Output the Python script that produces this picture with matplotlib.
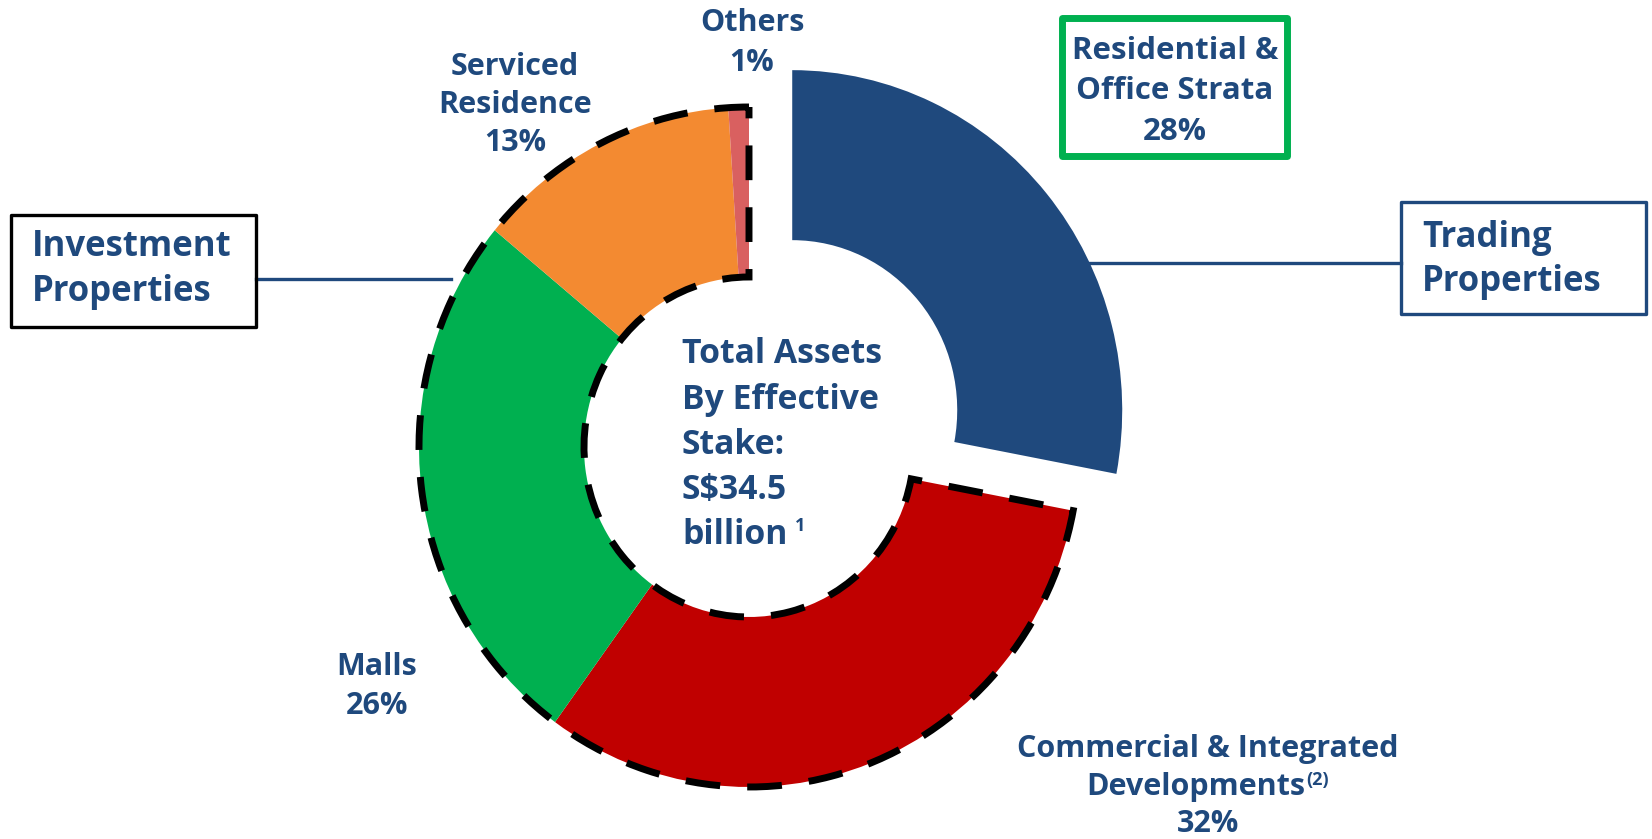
import matplotlib
matplotlib.use("Agg")
import matplotlib.pyplot as plt
from matplotlib.patches import Wedge, Rectangle

# asset mix by effective stake (%), clockwise from 12 o'clock
categories = ["Residential &\nOffice Strata", "Commercial & Integrated\nDevelopments",
              "Malls", "Serviced\nResidence", "Others"]
shares = [28, 32, 26, 13, 1]
colors = ["#1F497D", "#C00000", "#00B050", "#F38A31", "#D96060"]
explode = [0.17, 0, 0, 0, 0]

total_assets = "S$34.5"
center_lines = ["Total Assets", "By Effective", "Stake:", total_assets, "billion"]

NAVY = "#1F497D"
FONT = "Open Sans"

W, H = 1652, 839
CX, CY = 749, 447       # donut centre in pixels
RX, RY = 330, 340       # horizontal / vertical radius in pixels


def px(x, y):
    """pixel position (origin top-left) -> data units of the donut"""
    return (x - CX) / RX, (CY - y) / RY


fig = plt.figure(figsize=(W / 100, H / 100), dpi=100)
ax = fig.add_axes([0, 0, 1, 1])

wedges, _ = ax.pie(shares, colors=colors, explode=explode, startangle=90,
                   counterclock=False, radius=1.0,
                   wedgeprops=dict(width=0.5, linewidth=0))
ax.set_aspect("auto")
ax.set_xlim(-CX / RX, (W - CX) / RX)
ax.set_ylim(-(H - CY) / RY, CY / RY)
ax.axis("off")

# dashed outline around the investment-property slices
start = 90 - 360 * shares[0] / sum(shares) + 360
lw = 5.0
ax.add_patch(Wedge((0, 0), 1.0, 90, start, width=0.5, fill=False,
                   edgecolor="black", linewidth=lw,
                   linestyle=(0, (25.0 / lw, 19.5 / lw)), zorder=5))


def lines_at(x, ys, texts, size, ha="center"):
    out = []
    for y, s in zip(ys, texts):
        out.append(ax.text(*px(x, y), s, ha=ha, va="center", fontsize=size,
                           color=NAVY, fontweight="bold", family=FONT, zorder=6))
    return out


def label(i):
    return categories[i].split("\n") + [f"{shares[i]}%"]


# slice labels
LBL = 22
lines_at(752, [23, 63], label(4), LBL)
lines_at(515, [67, 105, 143], label(3), LBL)
lines_at(377, [667, 706], label(2), LBL)
com = label(1)
com_txt = lines_at(1208, [749], com[:1], LBL) + lines_at(1196, [787], com[1:2], LBL) \
    + lines_at(1208, [824], com[2:], LBL)

# centre text
ctr = lines_at(682, [354, 400, 445, 490, 535], center_lines, 24.3, ha="left")

# boxed group labels
def box(x0, y0, x1, y1, edge, width):
    (a, b), (c, d) = px(x0, y1), px(x1, y0)
    ax.add_patch(Rectangle((a, b), c - a, d - b, fill=False, edgecolor=edge,
                           linewidth=width, joinstyle="round", zorder=6))


box(11, 215, 256, 327, "black", 2.4)
lines_at(32, [247, 292], ["Investment", "Properties"], 25, ha="left")
ax.plot(*zip(px(256, 279), px(451, 279)), color=NAVY, lw=2.4, zorder=1)

box(1401, 202, 1646, 314, NAVY, 2.4)
lines_at(1422, [238, 282], ["Trading", "Properties"], 25, ha="left")
ax.plot(*zip(px(1000, 263), px(1401, 263)), color=NAVY, lw=2.4, zorder=1)

box(1062, 18, 1287, 156, "#00B050", 5)
lines_at(1175, [51, 91, 132], label(0), 22.5)

# superscript footnote markers
fig.canvas.draw()
r = fig.canvas.get_renderer()
bb = ctr[-1].get_window_extent(r)
ax.annotate("1", xy=(bb.x1 + 8, bb.y1 + 1), xycoords="figure pixels",
            ha="left", va="top", fontsize=13, color=NAVY, fontweight="bold",
            family=FONT, zorder=6)
bb = com_txt[1].get_window_extent(r)
ax.annotate("(2)", xy=(bb.x1 + 1, bb.y1 + 1), xycoords="figure pixels",
            ha="left", va="top", fontsize=13, color=NAVY, fontweight="bold",
            family=FONT, zorder=6)

fig.savefig("out.png", dpi=100, facecolor="white")
